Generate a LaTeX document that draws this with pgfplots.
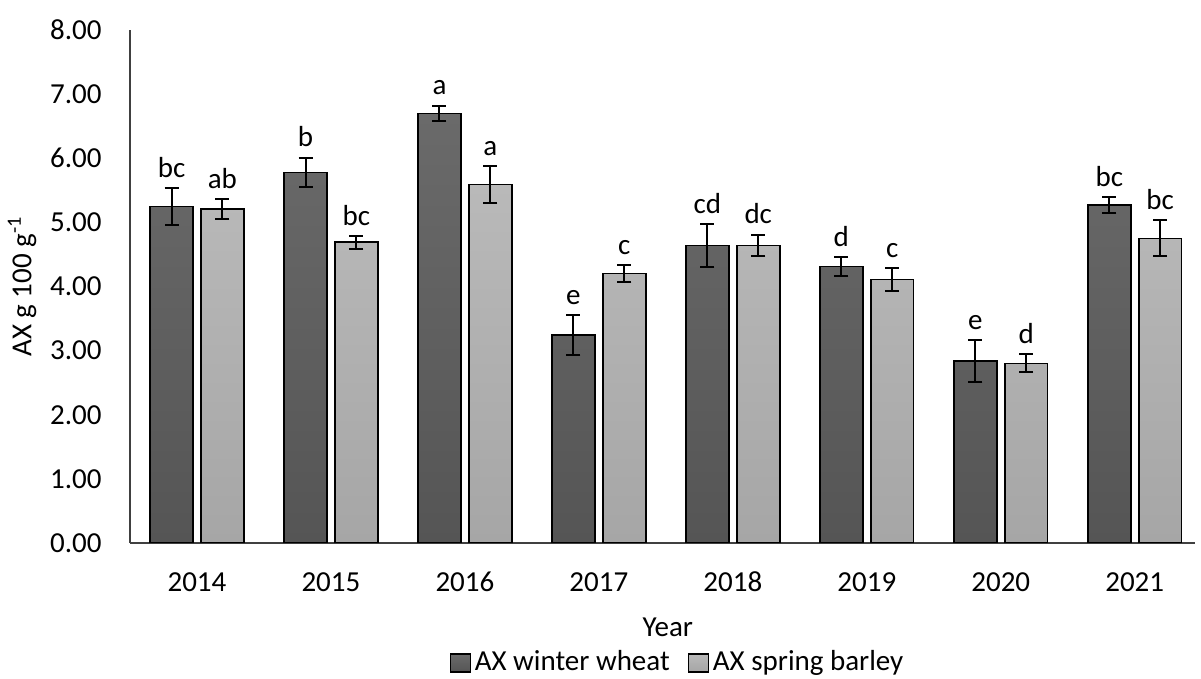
\documentclass[border=0pt]{standalone}
\usepackage{pgfplots}
\pgfplotsset{compat=1.18}
\usepackage{pgfplotstable}
\usepackage{fontspec}
\setmainfont{Carlito}

\pgfplotstableread{
x wheat werr wlab barley berr blab
0 5.25 0.29 bc 5.21 0.15 ab
1 5.78 0.23 b  4.69 0.10 bc
2 6.70 0.12 a  5.59 0.29 a
3 3.24 0.31 e  4.20 0.13 c
4 4.64 0.33 cd 4.64 0.17 dc
5 4.31 0.15 d  4.11 0.18 c
6 2.84 0.33 e  2.80 0.14 d
7 5.27 0.13 bc 4.75 0.28 bc
}\datatable

\definecolor{wheattop}{HTML}{6A6A6A}
\definecolor{wheatbot}{HTML}{555555}
\definecolor{barleytop}{HTML}{B9B9B9}
\definecolor{barleybot}{HTML}{A6A6A6}

\pgfplotsset{
  sqlegend/.style={legend image code/.code={\draw[##1, line width=0.6pt] (0pt,-4.5pt) rectangle (10pt,4.5pt);}},
}

\begin{document}
\fontsize{14.5}{17}\selectfont
\begin{tikzpicture}
\useasboundingbox (-65pt,-68pt) rectangle (535.5pt,271.5pt);
\begin{axis}[
  scale only axis, width=532.5pt, height=256.5pt,
  xmin=-0.5, xmax=7.45, ymin=0, ymax=8,
  ybar=4pt, bar width=0.32,
  axis lines=left,
  axis line style={-, black!75, line width=0.8pt},
  xtick={0,1,2,3,4,5,6,7},
  xticklabels={2014,2015,2016,2017,2018,2019,2020,2021},
  ytick={0,1,2,3,4,5,6,7,8},
  major tick length=0pt,
  /pgf/number format/assume math mode=true,
  y tick label style={/pgf/number format/fixed, /pgf/number format/fixed zerofill, /pgf/number format/precision=2, xshift=-9.2pt},
  x tick label style={anchor=base, yshift=-24.5pt},
  xlabel={Year},
  xlabel style={at={(axis description cs:0.505,0)}, anchor=center, yshift=-42pt},
  ylabel={AX g 100 g\textsuperscript{-1}},
  ylabel style={at={(axis description cs:0,0.5)}, anchor=center, yshift=54pt},
  point meta=explicit symbolic,
  nodes near coords={\pgfplotspointmeta},
  every node near coord/.append style={text=black, yshift=\myshift pt},
  legend style={at={(axis description cs:0.515,0)}, anchor=center, yshift=-60pt, draw=none, fill=none, legend columns=2, /tikz/every even column/.append style={column sep=7pt}, inner sep=0pt},
  legend cell align=left,
]
\addplot[draw=black, line width=0.8pt,
  top color=wheattop, bottom color=wheatbot, sqlegend,
  visualization depends on={\thisrow{werr}*32.0625 \as \myshift},
  error bars/.cd, y dir=both, y explicit,
  error bar style={line width=1pt, black},
  error mark options={rotate=90, mark size=3.5pt, line width=1pt, black}]
  table[x=x, y=wheat, y error=werr, meta=wlab] {\datatable};
\addlegendentry{AX winter wheat}
\addplot[draw=black, line width=0.8pt,
  top color=barleytop, bottom color=barleybot, sqlegend,
  visualization depends on={\thisrow{berr}*32.0625 \as \myshift},
  error bars/.cd, y dir=both, y explicit,
  error bar style={line width=1pt, black},
  error mark options={rotate=90, mark size=3.5pt, line width=1pt, black}]
  table[x=x, y=barley, y error=berr, meta=blab] {\datatable};
\addlegendentry{AX spring barley}
\end{axis}
\end{tikzpicture}
\end{document}
